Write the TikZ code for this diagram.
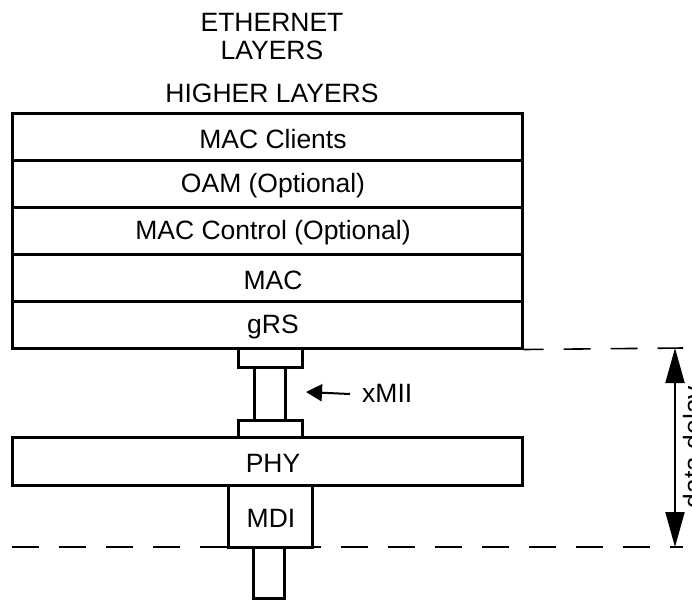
\documentclass[tikz,border=0pt]{standalone}
\usepackage{fontspec}
\setmainfont{Liberation Sans}
\usetikzlibrary{arrows.meta}
\begin{document}
\begin{tikzpicture}[x=1pt,y=-1pt,
  every node/.style={font=\fontsize{26.5}{30}\selectfont, inner sep=0pt},
  layer/.style={draw, line width=3pt, minimum width=510pt, minimum height=47pt},
  part/.style={draw, line width=3pt},
  lbl/.style={shift={(6,2.5)}},
  guide/.style={line width=1.6pt, dash pattern=on 27pt off 20pt},
  delayarrow/.style={line width=2pt, {Triangle[length=35pt,width=19pt]}-{Triangle[length=35pt,width=19pt]}},
  miiarrow/.style={line width=2pt, -{Triangle[length=16pt,width=17pt]}}
]
\useasboundingbox (0,0) rectangle (692,606);
% titles
\node (eth) at (272,22) {ETHERNET};
\node (lay) at (272,50) {LAYERS};
\node (high) at (272,93) {HIGHER LAYERS};
% layer stack
\node[layer] (clients) at (267,136.5) {};
\node[layer] (oam) at (267,183.5) {};
\node[layer] (ctrl) at (267,230.5) {};
\node[layer] (mac) at (267,277.5) {};
\node[layer] (grs) at (267,324.5) {};
\node[lbl] (clientsT) at (clients.center) {MAC Clients};
\node[lbl] (oamT) at (oam.center) {OAM (Optional)};
\node[lbl] (ctrlT) at (ctrl.center) {MAC Control (Optional)};
\node[lbl] (macT) at (mac.center) {MAC};
\node[lbl] (grsT) at (grs.center) {gRS};
% xMII connector
\node[part, minimum width=64pt, minimum height=19pt] (topplug) at (270,357.5) {};
\node[part, minimum width=31pt, minimum height=53pt] (stem) at (269.5,393.5) {};
\node[part, minimum width=64pt, minimum height=17pt] (botplug) at (270,428.5) {};
% PHY and MDI
\node[layer, minimum height=48pt] (phy) at (267,461) {};
\node[lbl] (phyT) at (phy.center) {PHY};
\node[part, minimum width=84pt, minimum height=62pt] (mdi) at (270,516) {};
\node[shift={(1,2)}] (mdiT) at (mdi.center) {MDI};
\node[part, minimum width=31pt, minimum height=51pt] (cable) at (268.5,572.5) {};
% xMII label
\node[anchor=west] (xmii) at (362,393) {xMII};
\coordinate (xtip) at (306,392);
\draw[miiarrow] ([xshift=-12pt,yshift=-1pt]xmii.west) -- (xtip);
% dashed guides
\coordinate (topend) at (683,348);
\coordinate (botstart) at (12,547);
\coordinate (botend) at (683,547);
\draw[guide, dash phase=7pt] (grs.south east) -- (topend);
\draw[guide] (botstart) -- (botend);
% delay arrow
\coordinate (dtop) at (675,348);
\coordinate (dbot) at (675,547);
\draw[delayarrow] (dtop) -- (dbot);
\node[rotate=90, anchor=north] (delay) at (683,447) {data delay};
\end{tikzpicture}
\end{document}
